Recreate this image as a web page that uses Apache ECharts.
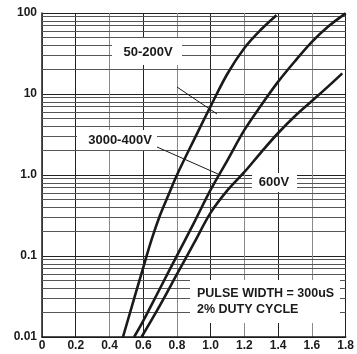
<!DOCTYPE html>
<html><head><meta charset="utf-8">
<script src="https://cdn.jsdelivr.net/npm/echarts@6/dist/echarts.min.js"></script>
<style>html,body{margin:0;padding:0;background:#fff}#c{width:357px;height:354px}</style>
</head><body><div id="c"></div>
<script>
// ---- data ----
const xTickLabels = ['0','0.2','0.4','0.6','0.8','1.0','1.2','1.4','1.6','1.8'];
const yTickLabels = ['0.01','0.1','1.0','10','100'];
const seriesNames = ['50-200V','3000-400V','600V'];
const x50_200 = [0.48,0.6,0.65,0.7,0.75,0.8,0.9,1.0,1.1,1.2,1.3,1.39];
const y50_200 = [0.01,0.072,0.16,0.32,0.57,1.0,2.7,7.1,17.9,37,63,94];
const x3000_400 = [0.546,0.6,0.7,0.8,0.9,1.0,1.1,1.2,1.3,1.4,1.5,1.6,1.7,1.8];
const y3000_400 = [0.01,0.0158,0.04,0.101,0.255,0.66,1.53,3.6,7.3,14.2,25.5,44,69,99];
const x600 = [0.59,0.7,0.8,0.9,1.0,1.1,1.2,1.3,1.4,1.5,1.6,1.7,1.78];
const y600 = [0.01,0.0248,0.0596,0.143,0.343,0.65,1.09,1.92,3.3,5.35,8.2,12.6,18];

// minor log grid values (2..9 in each decade)
const minorGrid = [];
for (let d = -2; d < 2; d++) for (let k = 2; k <= 9; k++) minorGrid.push(+(k * Math.pow(10, d)).toPrecision(3));

const FONT = '"Liberation Sans", Arial, sans-serif';
const INK = '#1a1a1a';
const pair = (xs, ys) => xs.map((x, i) => [x, ys[i]]);

const chart = echarts.init(document.getElementById('c'), null, {renderer: 'canvas'});
const curve = (name, xs, ys, extra) => Object.assign({
  name, type: 'line', data: pair(xs, ys), smooth: 0.35,
  symbol: 'none', silent: true,
  lineStyle: {color: INK, width: 2.6}, z: 5
}, extra || {});

chart.setOption({
  animation: false,
  backgroundColor: '#fff',
  grid: {left: 42, right: 11, top: 13, bottom: 17, containLabel: false},
  xAxis: {
    type: 'value', min: 0, max: 1.8, interval: 0.2,
    axisLine: {show: true, lineStyle: {color: INK, width: 1.5}},
    axisTick: {show: false},
    axisLabel: {
      margin: 3, color: INK, fontFamily: FONT, fontWeight: 'bold', fontSize: 12,
      formatter: v => xTickLabels[Math.round(v / 0.2)]
    },
    splitLine: {show: true, lineStyle: {color: ['#8a8a8a', '#222'], width: 1}}
  },
  yAxis: {
    type: 'log', logBase: 10, min: 0.01, max: 100,
    axisLine: {show: true, lineStyle: {color: INK, width: 1.5}},
    axisTick: {show: false},
    axisLabel: {
      margin: 5, color: INK, fontFamily: FONT, fontWeight: 'bold', fontSize: 12,
      formatter: v => yTickLabels[Math.round(Math.log10(v)) + 2]
    },
    splitLine: {show: true, lineStyle: {color: '#222', width: 1}}
  },
  series: [
    curve(seriesNames[0], x50_200, y50_200, {
      markLine: {
        silent: true, symbol: ['none', 'none'], label: {show: false},
        lineStyle: {color: '#555', width: 1, type: 'solid'},
        emphasis: {disabled: true},
        data: minorGrid.map(v => ({yAxis: v}))
      }
    }),
    curve(seriesNames[1], x3000_400, y3000_400),
    curve(seriesNames[2], x600, y600)
  ],
  graphic: [
    {type: 'rect', z: 100, shape: {x: 112, y: 38, width: 70, height: 27}, style: {fill: '#fff'}},
    {type: 'text', z: 101, x: 148, y: 52, style: {text: seriesNames[0], font: 'bold 13px ' + FONT, fill: INK, textAlign: 'center', textVerticalAlign: 'middle'}},
    {type: 'line', z: 101, shape: {x1: 177, y1: 87, x2: 217, y2: 114}, style: {stroke: INK, lineWidth: 1}},

    {type: 'rect', z: 100, shape: {x: 77, y: 130, width: 80, height: 20}, style: {fill: '#fff'}},
    {type: 'text', z: 101, x: 120, y: 140, style: {text: seriesNames[1], font: 'bold 13px ' + FONT, fill: INK, textAlign: 'center', textVerticalAlign: 'middle'}},
    {type: 'line', z: 101, shape: {x1: 157, y1: 147, x2: 218, y2: 174}, style: {stroke: INK, lineWidth: 1}},

    {type: 'rect', z: 100, shape: {x: 252, y: 173, width: 45, height: 19}, style: {fill: '#fff'}},
    {type: 'text', z: 101, x: 274, y: 182, style: {text: seriesNames[2], font: 'bold 13px ' + FONT, fill: INK, textAlign: 'center', textVerticalAlign: 'middle'}},

    {type: 'rect', z: 100, shape: {x: 190, y: 280, width: 150, height: 43}, style: {fill: '#fff'}},
    {type: 'text', z: 101, x: 197, y: 294, style: {text: 'PULSE WIDTH = 300uS', font: 'bold 12.5px ' + FONT, fill: INK, textAlign: 'left', textVerticalAlign: 'middle'}},
    {type: 'text', z: 101, x: 197, y: 310, style: {text: '2% DUTY CYCLE', font: 'bold 12.5px ' + FONT, fill: INK, textAlign: 'left', textVerticalAlign: 'middle'}}
  ]
});
</script>
</body></html>
